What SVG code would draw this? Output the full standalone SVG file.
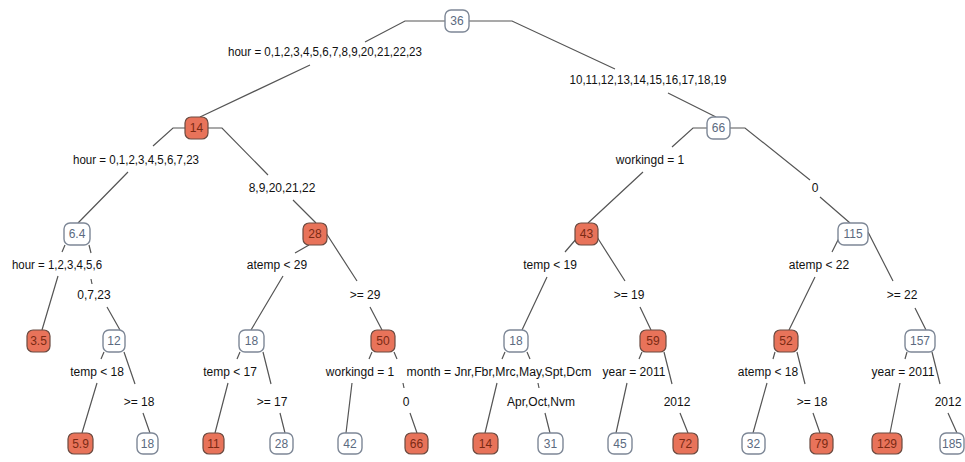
<svg xmlns="http://www.w3.org/2000/svg" width="965" height="462" viewBox="0 0 965 462">
<style>
.bg{fill:#ffffff}
.e path{fill:none;stroke:#555;stroke-width:1.2}
.lbl{font-family:"Liberation Sans",Arial,sans-serif;font-size:12px;fill:#111;text-anchor:middle}
.w rect{fill:#ffffff;stroke:#7d8796;stroke-width:1.4}
.w text{font-family:"Liberation Sans",Arial,sans-serif;font-size:12px;fill:#5b6a80;text-anchor:middle}
.o rect{fill:#e8735a;stroke:#6a4a40;stroke-width:1.2}
.o text{font-family:"Liberation Sans",Arial,sans-serif;font-size:12px;fill:#7a2a14;text-anchor:middle}
</style>
<rect class="bg" x="0" y="0" width="965" height="462"/>
<g id="connectors" class="e">
<path d="M445,21 H405 L365,42 M310,65 L200,117"/>
<path d="M469,21 H512 L615,69 M668,93 L716,117"/>
<path d="M185,128 H173 L153,146 M128,172 L78,223"/>
<path d="M208,128 H222 L268,175 M293,200 L316,223"/>
<path d="M707,128 H693 L672,147 M643,172 L588,223"/>
<path d="M730,128 H745 L810,180 M820,197 L850,223"/>
<path d="M65,245 L62,252 M58,276 L42,330"/>
<path d="M89,245 L91,253 M91,279 L92,284 M107,307 L120,330"/>
<path d="M104,352 L101,359 M97,383 L82,433"/>
<path d="M124,352 L135,384 M143,413 L150,433"/>
<path d="M309,245 L295,253 M283,276 L251,330"/>
<path d="M326,233 L357,281 M370,307 L382,330"/>
<path d="M240,352 L237,359 M228,383 L215,433"/>
<path d="M263,352 L271,384 M280,413 L285,433"/>
<path d="M372,352 L369,359 M352,383 L346,433"/>
<path d="M394,352 L397,359 M403,383 L404,388 M410,413 L417,433"/>
<path d="M577,238 L565,252 M547,277 L522,330"/>
<path d="M597,237 L625,281 M640,307 L651,330"/>
<path d="M505,352 L502,359 M497,383 L485,433"/>
<path d="M527,352 L530,359 M538,383 L539,388 M545,413 L550,433"/>
<path d="M642,352 L639,359 M627,383 L616,433"/>
<path d="M664,352 L672,384 M680,413 L688,433"/>
<path d="M840,236 L832,252 M815,277 L789,330"/>
<path d="M868,232 L893,281 M915,308 L926,330"/>
<path d="M775,352 L773,359 M767,383 L753,433"/>
<path d="M797,352 L805,384 M813,413 L820,433"/>
<path d="M907,352 L905,359 M900,383 L890,433"/>
<path d="M932,352 L940,384 M948,413 L957,433"/>
</g>
<g id="labels">
<text class="lbl" x="325" y="56" textLength="194" lengthAdjust="spacingAndGlyphs">hour = 0,1,2,3,4,5,6,7,8,9,20,21,22,23</text>
<text class="lbl" x="648" y="84" textLength="157" lengthAdjust="spacingAndGlyphs">10,11,12,13,14,15,16,17,18,19</text>
<text class="lbl" x="136" y="164" textLength="126" lengthAdjust="spacingAndGlyphs">hour = 0,1,2,3,4,5,6,7,23</text>
<text class="lbl" x="282" y="192">8,9,20,21,22</text>
<text class="lbl" x="650" y="164">workingd = 1</text>
<text class="lbl" x="815" y="192">0</text>
<text class="lbl" x="57" y="269" textLength="90" lengthAdjust="spacingAndGlyphs">hour = 1,2,3,4,5,6</text>
<text class="lbl" x="94" y="299">0,7,23</text>
<text class="lbl" x="277" y="269">atemp &lt; 29</text>
<text class="lbl" x="365" y="299">&gt;= 29</text>
<text class="lbl" x="550" y="269">temp &lt; 19</text>
<text class="lbl" x="629" y="299">&gt;= 19</text>
<text class="lbl" x="819" y="269">atemp &lt; 22</text>
<text class="lbl" x="902" y="299">&gt;= 22</text>
<text class="lbl" x="97" y="376">temp &lt; 18</text>
<text class="lbl" x="139" y="406">&gt;= 18</text>
<text class="lbl" x="230" y="376">temp &lt; 17</text>
<text class="lbl" x="272" y="406">&gt;= 17</text>
<text class="lbl" x="360" y="376">workingd = 1</text>
<text class="lbl" x="406" y="406">0</text>
<text class="lbl" x="499" y="376" textLength="185" lengthAdjust="spacingAndGlyphs">month = Jnr,Fbr,Mrc,May,Spt,Dcm</text>
<text class="lbl" x="541" y="406">Apr,Oct,Nvm</text>
<text class="lbl" x="634" y="376">year = 2011</text>
<text class="lbl" x="677" y="406">2012</text>
<text class="lbl" x="768" y="376">atemp &lt; 18</text>
<text class="lbl" x="812" y="406">&gt;= 18</text>
<text class="lbl" x="903" y="376">year = 2011</text>
<text class="lbl" x="948" y="406">2012</text>
</g>
<g id="n36" class="w"><rect x="445" y="10" width="24" height="22" rx="6"/><text x="457" y="25">36</text></g>
<g id="n14" class="o"><rect x="185" y="117" width="23" height="22" rx="6"/><text x="196.5" y="132">14</text></g>
<g id="n66" class="w"><rect x="707" y="117" width="23" height="22" rx="6"/><text x="718.5" y="132">66</text></g>
<g id="n6_4" class="w"><rect x="64" y="223" width="26" height="22" rx="6"/><text x="77" y="238">6.4</text></g>
<g id="n28" class="o"><rect x="303" y="223" width="24" height="22" rx="6"/><text x="315" y="238">28</text></g>
<g id="n43" class="o"><rect x="575" y="223" width="23" height="22" rx="6"/><text x="586.5" y="238">43</text></g>
<g id="n115" class="w"><rect x="838" y="223" width="30" height="22" rx="6"/><text x="853" y="238">115</text></g>
<g id="n3_5" class="o"><rect x="27" y="330" width="23" height="22" rx="6"/><text x="38.5" y="345">3.5</text></g>
<g id="n12" class="w"><rect x="103" y="330" width="22" height="22" rx="6"/><text x="114" y="345">12</text></g>
<g id="n18a" class="w"><rect x="239" y="330" width="25" height="22" rx="6"/><text x="251.5" y="345">18</text></g>
<g id="n50" class="o"><rect x="371" y="330" width="24" height="22" rx="6"/><text x="383" y="345">50</text></g>
<g id="n18b" class="w"><rect x="504" y="330" width="24" height="22" rx="6"/><text x="516" y="345">18</text></g>
<g id="n59" class="o"><rect x="640" y="330" width="26" height="22" rx="6"/><text x="653" y="345">59</text></g>
<g id="n52" class="o"><rect x="774" y="330" width="24" height="22" rx="6"/><text x="786" y="345">52</text></g>
<g id="n157" class="w"><rect x="905" y="330" width="30" height="22" rx="6"/><text x="920" y="345">157</text></g>
<g id="l5_9" class="o"><rect x="68" y="433" width="25" height="21" rx="6"/><text x="80.5" y="448">5.9</text></g>
<g id="l18" class="w"><rect x="137" y="433" width="21" height="21" rx="6"/><text x="147.5" y="448">18</text></g>
<g id="l11" class="o"><rect x="203" y="433" width="21" height="21" rx="6"/><text x="213.5" y="448">11</text></g>
<g id="l28" class="w"><rect x="270" y="433" width="23" height="21" rx="6"/><text x="281.5" y="448">28</text></g>
<g id="l42" class="w"><rect x="338" y="433" width="24" height="21" rx="6"/><text x="350" y="448">42</text></g>
<g id="l66" class="o"><rect x="405" y="433" width="23" height="21" rx="6"/><text x="416.5" y="448">66</text></g>
<g id="l14" class="o"><rect x="473" y="433" width="25" height="21" rx="6"/><text x="485.5" y="448">14</text></g>
<g id="l31" class="w"><rect x="538" y="433" width="25" height="21" rx="6"/><text x="550.5" y="448">31</text></g>
<g id="l45" class="w"><rect x="608" y="433" width="24" height="21" rx="6"/><text x="620" y="448">45</text></g>
<g id="l72" class="o"><rect x="673" y="433" width="25" height="21" rx="6"/><text x="685.5" y="448">72</text></g>
<g id="l32" class="w"><rect x="742" y="433" width="23" height="21" rx="6"/><text x="753.5" y="448">32</text></g>
<g id="l79" class="o"><rect x="810" y="433" width="23" height="21" rx="6"/><text x="821.5" y="448">79</text></g>
<g id="l129" class="o"><rect x="872" y="433" width="30" height="21" rx="6"/><text x="887" y="448">129</text></g>
<g id="l185" class="w"><rect x="940" y="433" width="24" height="21" rx="6"/><text x="952" y="448">185</text></g>
</svg>
